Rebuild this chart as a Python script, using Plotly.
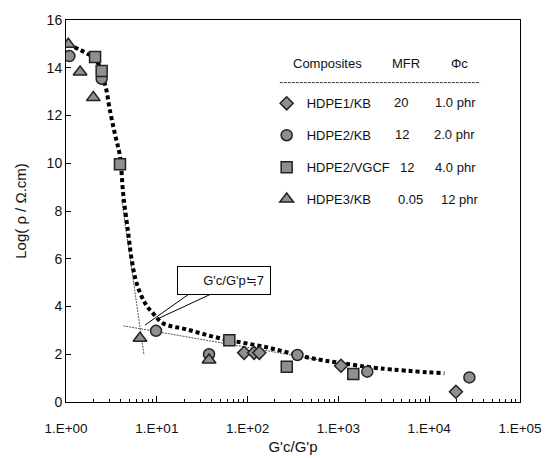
import plotly.graph_objects as go

# ---- data ----
hdpe1_kb_x = [91.5, 118, 134.6, 1069, 19700]
hdpe1_kb_y = [2.06, 2.06, 2.06, 1.52, 0.43]

hdpe2_kb_x = [1.09, 2.47, 9.8, 37.6, 354, 2080, 27700]
hdpe2_kb_y = [14.49, 13.54, 2.98, 2.0, 1.97, 1.27, 1.03]

hdpe2_vgcf_x = [2.09, 2.47, 3.93, 62.9, 270, 1459]
hdpe2_vgcf_y = [14.45, 13.86, 9.96, 2.59, 1.48, 1.17]

hdpe3_kb_x = [1.06, 1.43, 2.0, 6.53, 37.6]
hdpe3_kb_y = [14.98, 13.82, 12.75, 2.67, 1.76]

curve_x = [1.05, 1.43, 1.70, 2.09, 2.69, 3.05, 3.47, 3.93, 4.27, 4.85, 5.30, 6.0,
           7.4, 9.1, 11.8, 21.3, 49.5, 162, 510, 1040, 2850, 14700]
curve_y = [14.98, 14.75, 14.6, 14.4, 13.3, 12.2, 11.2, 10.3, 8.7, 7.06, 5.94, 4.97,
           4.15, 3.71, 3.29, 3.04, 2.67, 2.29, 1.83, 1.64, 1.41, 1.2]

steep_x = [4.11, 7.23]
steep_y = [8.45, 1.97]
flat_x = [4.28, 628]
flat_y = [3.19, 1.76]

names = ["HDPE1/KB", "HDPE2/KB", "HDPE2/VGCF", "HDPE3/KB"]
mfr = ["20", "12", "12", "0.05"]
phi = ["1.0 phr", "2.0 phr", "4.0 phr", "12 phr"]
header = ["Composites", "MFR", "\u03a6c"]

x_tickvals = [1, 10, 100, 1000, 10000, 100000]
x_ticktext = ["1.E+00", "1.E+01", "1.E+02", "1.E+03", "1.E+04", "1.E+05"]

FONT = "Liberation Sans, Arial, sans-serif"

fig = go.Figure()

# thin tangent lines
fig.add_trace(go.Scatter(x=steep_x, y=steep_y, mode="lines",
                         line=dict(color="#555", width=1, dash="2px,1px"), showlegend=False))
fig.add_trace(go.Scatter(x=flat_x, y=flat_y, mode="lines",
                         line=dict(color="#555", width=1, dash="2px,1px"), showlegend=False))
# thick dotted fitted curve
fig.add_trace(go.Scatter(x=curve_x, y=curve_y, mode="lines", line_shape="spline",
                         line=dict(color="black", width=4, dash="4px,3px"), showlegend=False))

series = [
    (hdpe1_kb_x, hdpe1_kb_y, "diamond", 10),
    (hdpe2_kb_x, hdpe2_kb_y, "circle", 11),
    (hdpe2_vgcf_x, hdpe2_vgcf_y, "square", 11),
    (hdpe3_kb_x, hdpe3_kb_y, "triangle-up", 12),
]
for i, (xs, ys, sym, sz) in enumerate(series):
    fig.add_trace(go.Scatter(x=xs, y=ys, mode="markers", name=names[i],
                             legendgroup=names[i],
                             marker=dict(symbol=sym, size=sz, color="#8f8f8f",
                                         line=dict(color="#222", width=1.5))))

# callout wedge lines and box
fig.add_shape(type="line", xref="x", yref="y", x0=22.6, y0=4.52, x1=7.41, y1=3.22,
              line=dict(color="black", width=1))
fig.add_shape(type="line", xref="x", yref="y", x0=39.5, y0=4.52, x1=10.05, y1=3.47,
              line=dict(color="black", width=1))
fig.add_annotation(x=1.745, y=5.07, xref="x", yref="y", text="G'c/G'p\u22527",
                   xanchor="center", yanchor="middle",
                   showarrow=False, font=dict(family=FONT, size=13, color="#111"),
                   bgcolor="white", bordercolor="black", borderwidth=1, borderpad=6,
                   width=80, align="right")

# legend table header and columns
hx = [0.575, 0.748, 0.866]
for t, xx in zip(header, hx):
    fig.add_annotation(x=xx, y=0.887, xref="paper", yref="paper", text=t, showarrow=False,
                       xanchor="center", yanchor="middle",
                       font=dict(family=FONT, size=13, color="#111"))
fig.add_shape(type="line", xref="paper", yref="paper", x0=0.471, x1=0.912, y0=0.836, y1=0.836,
              line=dict(color="#333", width=1, dash="3px,1px"))
row_y = [0.7835, 0.699, 0.614, 0.530]
mfr_x = [0.737, 0.740, 0.750, 0.758]
phi_x = [0.857, 0.855, 0.857, 0.868]
for i in range(4):
    fig.add_annotation(x=mfr_x[i], y=row_y[i], xref="paper", yref="paper", text=mfr[i],
                       xanchor="center", yanchor="middle",
                       showarrow=False, font=dict(family=FONT, size=13, color="#111"))
    fig.add_annotation(x=phi_x[i], y=row_y[i], xref="paper", yref="paper", text=phi[i],
                       xanchor="center", yanchor="middle",
                       showarrow=False, font=dict(family=FONT, size=13, color="#111"))

fig.update_layout(
    width=545, height=458,
    margin=dict(l=66, r=25, t=20, b=56),
    paper_bgcolor="white", plot_bgcolor="white",
    font=dict(family=FONT, size=13, color="#111"),
    legend=dict(x=0.442, y=0.821, xanchor="left", yanchor="top",
                bgcolor="rgba(0,0,0,0)", font=dict(family=FONT, size=13, color="#111"),
                tracegroupgap=12, itemwidth=30),
)
fig.update_xaxes(type="log", range=[0, 5], tickvals=x_tickvals, ticktext=x_ticktext,
                 ticks="inside", ticklen=6, tickcolor="black", ticklabelstandoff=14,
                 automargin=False,
                 minor=dict(dtick="D1", ticks="inside", ticklen=3, tickcolor="black", showgrid=False),
                 showline=True, linecolor="black", linewidth=1, mirror=True, showgrid=False,
                 zeroline=False, tickfont=dict(size=13.5),
                 title=dict(text="G'c/G'p", font=dict(size=15), standoff=6))
fig.update_yaxes(range=[0, 16], dtick=2, ticks="inside", ticklen=5, tickcolor="black",
                 showline=True, linecolor="black", linewidth=1, mirror=True, showgrid=False,
                 zeroline=False, tickfont=dict(size=14), automargin=False,
                 title=dict(text="Log( \u03c1 / \u03a9.cm)", font=dict(size=15), standoff=16))

fig.write_html("out.html")
